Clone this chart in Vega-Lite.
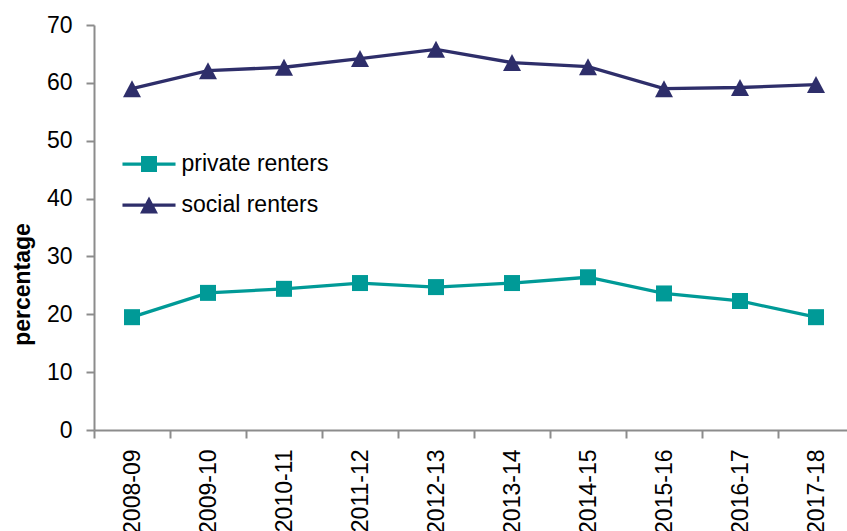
{
  "$schema": "https://vega.github.io/schema/vega-lite/v6.json",
  "autosize": "none",
  "width": 753,
  "height": 405,
  "padding": {"left": 94, "top": 25, "right": 0, "bottom": 101},
  "background": "white",
  "config": {
    "view": {"stroke": null},
    "font": "Liberation Sans",
    "axis": {
      "domainColor": "#8c8c8c",
      "domainWidth": 2,
      "tickColor": "#8c8c8c",
      "tickWidth": 2,
      "tickSize": 8,
      "labelColor": "#000000",
      "labelFontSize": 23,
      "labelFont": "Liberation Sans",
      "grid": false
    }
  },
  "data": {
    "values": [
      {"year": "2008-09", "series": "private renters", "value": 19.5},
      {"year": "2009-10", "series": "private renters", "value": 23.7},
      {"year": "2010-11", "series": "private renters", "value": 24.4},
      {"year": "2011-12", "series": "private renters", "value": 25.4},
      {"year": "2012-13", "series": "private renters", "value": 24.7},
      {"year": "2013-14", "series": "private renters", "value": 25.4},
      {"year": "2014-15", "series": "private renters", "value": 26.4},
      {"year": "2015-16", "series": "private renters", "value": 23.6},
      {"year": "2016-17", "series": "private renters", "value": 22.3},
      {"year": "2017-18", "series": "private renters", "value": 19.5},
      {"year": "2008-09", "series": "social renters", "value": 59.0},
      {"year": "2009-10", "series": "social renters", "value": 62.1},
      {"year": "2010-11", "series": "social renters", "value": 62.7},
      {"year": "2011-12", "series": "social renters", "value": 64.2},
      {"year": "2012-13", "series": "social renters", "value": 65.8},
      {"year": "2013-14", "series": "social renters", "value": 63.5},
      {"year": "2014-15", "series": "social renters", "value": 62.8},
      {"year": "2015-16", "series": "social renters", "value": 59.0},
      {"year": "2016-17", "series": "social renters", "value": 59.2},
      {"year": "2017-18", "series": "social renters", "value": 59.7}
    ]
  },
  "encoding": {
    "x": {
      "field": "year",
      "type": "ordinal",
      "scale": {"type": "band", "paddingInner": 0, "paddingOuter": 0, "range": [0, 760]},
      "axis": {
        "title": null,
        "labelAngle": -90,
        "tickBand": "extent",
        "labelPadding": 11
      }
    },
    "y": {
      "field": "value",
      "type": "quantitative",
      "scale": {"domain": [0, 70], "nice": false},
      "axis": {
        "values": [0, 10, 20, 30, 40, 50, 60, 70],
        "labelPadding": 14,
        "title": "percentage",
        "titleFontSize": 23,
        "titleFontWeight": "bold",
        "titleColor": "#000000",
        "titleFont": "Liberation Sans",
        "titleAngle": -90,
        "titleAlign": "center",
        "titleBaseline": "alphabetic",
        "titleX": -65,
        "titleY": 259
      }
    }
  },
  "layer": [
    {
      "mark": {"type": "point", "filled": true, "size": 1},
      "encoding": {
        "fill": {
          "field": "series",
          "type": "nominal",
          "scale": {"domain": ["private renters", "social renters"], "range": ["#009a97", "#2e2e6a"]},
          "legend": {
            "title": null,
            "orient": "none",
            "legendX": 42,
            "legendY": 126,
            "padding": 0,
            "symbolSize": 676,
            "labelOffset": 19.5,
            "rowPadding": 16,
            "labelFontSize": 23,
            "labelColor": "#000000",
            "labelFont": "Liberation Sans",
            "symbolOpacity": 1,
            "symbolStrokeWidth": 0
          }
        },
        "shape": {
          "field": "series",
          "type": "nominal",
          "scale": {
            "domain": ["private renters", "social renters"],
            "range": [
              "M-2.04,-0.125H2.04V0.125H-2.04Z M-0.615,-0.615H0.615V0.615H-0.615Z",
              "M-2.04,-0.125H2.04V0.125H-2.04Z M0,-0.65L0.69,0.65L-0.69,0.65Z"
            ]
          },
          "legend": {
            "title": null,
            "orient": "none",
            "legendX": 42,
            "legendY": 126,
            "padding": 0,
            "symbolSize": 676,
            "labelOffset": 19.5,
            "rowPadding": 16,
            "labelFontSize": 23,
            "labelColor": "#000000",
            "labelFont": "Liberation Sans",
            "symbolOpacity": 1,
            "symbolStrokeWidth": 0
          }
        }
      }
    },
    {
      "mark": {"type": "line", "strokeWidth": 3.3},
      "encoding": {
        "color": {
          "field": "series",
          "type": "nominal",
          "scale": {"domain": ["private renters", "social renters"], "range": ["#009a97", "#2e2e6a"]},
          "legend": null
        }
      }
    },
    {
      "transform": [{"filter": "datum.series === 'private renters'"}],
      "mark": {"type": "point", "filled": true, "opacity": 1, "size": 256, "shape": "square"},
      "encoding": {
        "color": {"field": "series", "type": "nominal", "legend": null}
      }
    },
    {
      "transform": [{"filter": "datum.series === 'social renters'"}],
      "mark": {"type": "point", "filled": true, "opacity": 1, "size": 324, "shape": "M0,-0.944L1,0.944L-1,0.944Z"},
      "encoding": {
        "color": {"field": "series", "type": "nominal", "legend": null}
      }
    }
  ]
}
